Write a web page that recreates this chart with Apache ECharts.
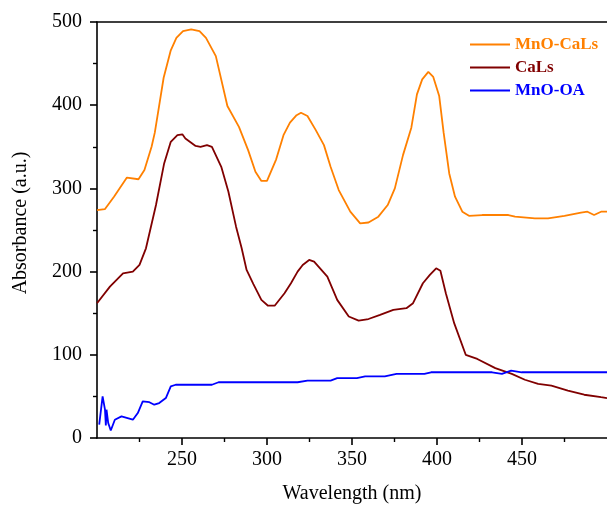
<!DOCTYPE html>
<html>
<head>
<meta charset="utf-8">
<script src="https://cdn.jsdelivr.net/npm/echarts@6/dist/echarts.min.js"></script>
<style>
  html, body { margin: 0; padding: 0; background: #fff; }
  #chart { width: 607px; height: 509px; }
</style>
</head>
<body>
<div id="chart"></div>
<script>
// UV-Vis absorbance spectra (wavelength in nm, absorbance in a.u.)
const mnoCalsWavelength = [200, 204.6, 210, 217.6, 224.4, 227.9, 232.1, 234, 235.9, 239.2, 243.4, 246.7, 250.6, 255.4, 260.3, 264.1, 269.9, 276.7, 283.5, 288.9, 293.2, 296.7, 300, 305.4, 309.7, 313.5, 317.4, 320, 323.8, 328.7, 333.5, 337.4, 342.2, 349, 354.8, 359.7, 365.5, 371, 375.2, 380, 384.9, 388.2, 391.3, 394.9, 397.8, 401.3, 403.9, 407.2, 410.6, 414.9, 418.8, 426.6, 442, 445.9, 457.6, 465.3, 475, 484.7, 488.5, 492.4, 496.5, 500];
const mnoCalsAbsorbance = [274, 275, 290, 313, 311, 322, 350, 367, 391, 433, 466, 481, 489, 491, 489, 481, 459, 399, 374, 346, 320, 309, 309, 335, 364, 379, 388, 391, 387, 370, 352, 326, 298, 272, 258, 259, 266, 280, 300, 340, 373, 413, 431, 440, 434, 411, 367, 318, 290, 272, 267, 268, 268, 266, 264, 264, 267, 271, 272, 268, 272, 272];

const calsWavelength = [200, 207.6, 215.3, 221.1, 225, 228.8, 234.7, 239.5, 243.4, 247.3, 250.2, 252, 258, 260.9, 264.7, 267.6, 273.1, 277.3, 281.8, 285.1, 288, 292, 296.7, 300.6, 304.5, 310.3, 314.1, 318, 321, 324.8, 327.7, 335.5, 341.3, 348.1, 353.9, 359.7, 366.5, 374.3, 382, 385.9, 391.7, 395.8, 399.5, 402, 405.2, 410.1, 416.9, 423.7, 434.3, 444, 451.7, 459.5, 467.3, 477, 486.6, 496.5, 500];
const calsAbsorbance = [162, 182, 198, 200, 208, 228, 280, 330, 356, 364, 365, 360, 351, 350, 352, 350, 326, 296, 254, 228, 202, 185, 166, 159, 159, 174, 186, 200, 208, 214, 212, 194, 166, 146, 141, 143, 148, 154, 156, 162, 186, 196, 204, 201, 174, 138, 100, 95, 84, 77, 70, 65, 63, 57, 52, 49, 48];

const mnoOaWavelength = [201.3, 203.3, 204.7, 205.2, 205.6, 206.6, 208.1, 210.5, 214.4, 221.1, 224, 226.9, 230.8, 233.7, 236.6, 240.5, 243.4, 246.3, 267.6, 271.5, 318, 323.8, 337.4, 341.3, 352.9, 357.7, 369.3, 376.2, 392.6, 396.5, 432.4, 438.2, 443.6, 449.8, 500];
const mnoOaAbsorbance = [16, 50, 34, 15, 34, 18, 9, 22, 26, 22, 30, 44, 43, 40, 42, 48, 62, 64, 64, 67, 67, 69, 69, 72, 72, 74, 74, 77, 77, 79, 79, 77, 81, 79, 79];

const seriesNames = ['MnO-CaLs', 'CaLs', 'MnO-OA'];
const seriesColors = ['#FF8000', '#800000', '#0000FF'];
const xTickValues = [250, 300, 350, 400, 450];

const pairs = (xs, ys) => xs.map((x, i) => [x, ys[i]]);
const seriesData = [
  pairs(mnoCalsWavelength, mnoCalsAbsorbance),
  pairs(calsWavelength, calsAbsorbance),
  pairs(mnoOaWavelength, mnoOaAbsorbance)
];

const FONT = '"Liberation Serif", "Times New Roman", serif';
const chart = echarts.init(document.getElementById('chart'), null, { renderer: 'canvas' });

chart.setOption({
  animation: false,
  backgroundColor: '#fff',
  grid: { left: 97, top: 22, width: 518, height: 416, containLabel: false },
  legend: {
    orient: 'vertical',
    left: 470,
    top: 36,
    padding: 0,
    icon: 'rect',
    itemWidth: 40,
    itemHeight: 2,
    itemGap: 6,
    data: seriesNames.map((n, i) => ({
      name: n,
      itemStyle: { color: seriesColors[i] },
      textStyle: { color: seriesColors[i] }
    })),
    textStyle: { fontFamily: FONT, fontSize: 17, fontWeight: 'bold', lineHeight: 17 }
  },
  xAxis: [
    {
      type: 'value',
      position: 'bottom',
      min: 200,
      max: 500,
      interval: 50,
      name: 'Wavelength (nm)',
      nameLocation: 'middle',
      nameGap: 46,
      nameTextStyle: { fontFamily: FONT, fontSize: 20, color: '#000' },
      axisLine: { show: true, onZero: false, lineStyle: { color: '#000', width: 1.6 } },
      axisTick: { show: true, inside: false, length: 7, customValues: xTickValues, lineStyle: { color: '#000', width: 1.6 } },
      minorTick: { show: true, splitNumber: 2, length: 4, lineStyle: { color: '#000', width: 1.4 } },
      axisLabel: { customValues: xTickValues, margin: 12, fontFamily: FONT, fontSize: 20, color: '#000' },
      splitLine: { show: false },
      minorSplitLine: { show: false }
    },
    {
      type: 'value',
      position: 'top',
      min: 200,
      max: 500,
      axisLine: { show: true, onZero: false, lineStyle: { color: '#000', width: 1.6 } },
      axisTick: { show: false },
      axisLabel: { show: false },
      splitLine: { show: false }
    }
  ],
  yAxis: {
    type: 'value',
    min: 0,
    max: 500,
    interval: 100,
    name: 'Absorbance (a.u.)',
    nameLocation: 'middle',
    nameGap: 66,
    nameTextStyle: { fontFamily: FONT, fontSize: 20, color: '#000', padding: [0, 0, 0, 14] },
    axisLine: { show: true, onZero: false, lineStyle: { color: '#000', width: 1.6 } },
    axisTick: { show: true, inside: false, length: 7, lineStyle: { color: '#000', width: 1.6 } },
    minorTick: { show: true, splitNumber: 2, length: 4, lineStyle: { color: '#000', width: 1.4 } },
    axisLabel: { margin: 15, fontFamily: FONT, fontSize: 20, color: '#000' },
    splitLine: { show: false },
    minorSplitLine: { show: false }
  },
  series: seriesNames.map((n, i) => ({
    name: n,
    type: 'line',
    xAxisIndex: 0,
    data: seriesData[i],
    symbol: 'none',
    smooth: false,
    color: seriesColors[i],
    lineStyle: { color: seriesColors[i], width: 1.8 }
  }))
});
</script>
</body>
</html>
